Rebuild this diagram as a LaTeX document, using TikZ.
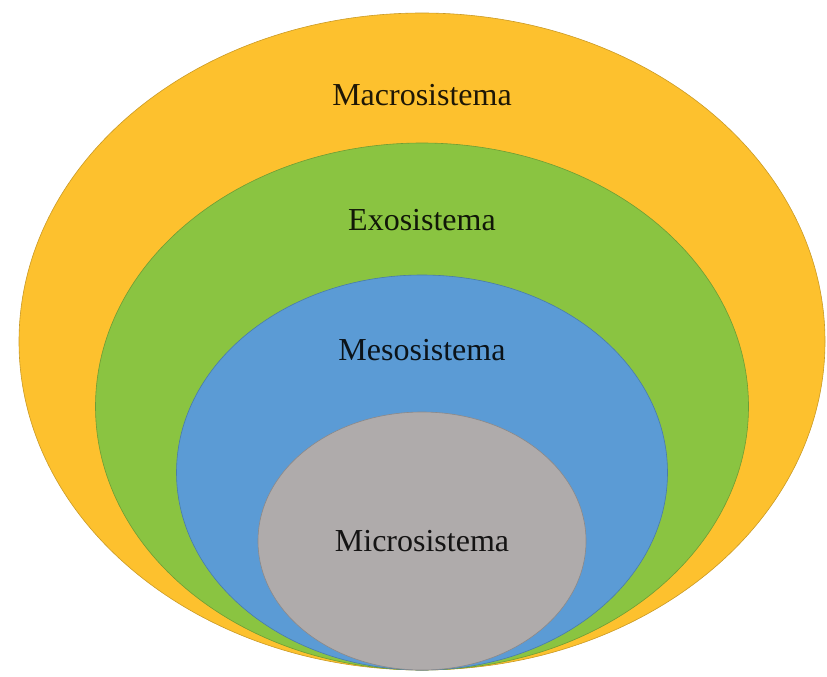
\documentclass[tikz,border=0pt]{standalone}
\usepackage{fontspec}
\setmainfont{Liberation Serif}
\usetikzlibrary{shapes.geometric}

\definecolor{macroyellow}{RGB}{253,193,46}
\definecolor{exogreen}{RGB}{138,196,65}
\definecolor{mesoblue}{RGB}{91,155,213}
\definecolor{microgray}{RGB}{175,171,171}

\tikzset{
  layer/.style={ellipse, inner sep=0pt, line width=0.6pt},
  layerlbl/.style={font=\fontsize{32}{38}\selectfont, inner sep=0pt}
}

\begin{document}
\begin{tikzpicture}[x=1pt,y=-1pt]
  \useasboundingbox (0,0) rectangle (827,677);
  % nested systems, all touching at the bottom
  \foreach \nm/\col/\cy/\w/\h/\ly/\txt in {
      macro/macroyellow/341.5/806/657/95/Macrosistema,
      exo/exogreen/406.5/653/527/220/Exosistema,
      meso/mesoblue/472.5/491/395/350/Mesosistema,
      micro/microgray/541/328/258/541/Microsistema} {
    \node[layer, fill=\col, draw=\col!80!black,
          minimum width=\w pt, minimum height=\h pt] (\nm) at (422,\cy) {};
    \node[layerlbl, text=black!88!\col] (\nm lbl) at (422,\ly) {\txt};
  }
\end{tikzpicture}
\end{document}
